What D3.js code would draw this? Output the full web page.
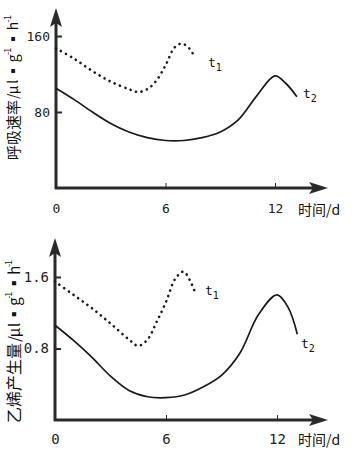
<!DOCTYPE html>
<html>
<head>
<meta charset="utf-8">
<script src="https://cdn.jsdelivr.net/npm/d3@7"></script>
<style>
  html, body { margin: 0; padding: 0; background: #fff; }
  svg { display: block; }
</style>
</head>
<body>
<div id="chart"></div>
<script>
// respiration rate panel (top)
const respT1Days = [0, 1, 2, 3, 4, 4.5, 5, 5.5, 6, 6.5, 6.9, 7.3, 7.6];
const respT1 = [147, 136, 123, 112, 104, 101, 104, 113, 129, 148, 152, 147, 138];
const respT2Days = [0, 1, 2, 3, 4, 5, 6, 7, 8, 9, 10, 11, 12, 12.6, 13.2];
const respT2 = [105, 93, 80, 68, 59, 53, 50, 50, 53, 59, 72, 97, 118, 110, 96];
const respTicks = [80, 160];

// ethylene production panel (bottom)
const ethT1Days = [0, 1, 2, 3, 4, 4.5, 5, 5.5, 6, 6.5, 6.95, 7.3, 7.6];
const ethT1 = [1.55, 1.40, 1.25, 1.08, 0.90, 0.83, 0.90, 1.10, 1.32, 1.58, 1.66, 1.56, 1.41];
const ethT2Days = [0, 1, 2, 3, 4, 5, 6, 7, 8, 9, 10, 11, 12, 12.6, 13.1];
const ethT2 = [1.06, 0.89, 0.70, 0.49, 0.33, 0.26, 0.25, 0.28, 0.37, 0.50, 0.75, 1.18, 1.40, 1.26, 0.96];
const ethTicks = [0.8, 1.6];

const dayTicks = [0, 6, 12];

const W = 353, H = 450;
const AXIS_COLOR = '#2a2a2a';
const LINE_COLOR = '#1a1a1a';
const MONO = '"DejaVu Sans Mono", monospace';
const CJK = '"Noto Sans CJK SC", sans-serif';

const svg = d3.select('#chart').append('svg').attr('width', W).attr('height', H);

function zip(days, vals) {
  return days.map((d, i) => ({ day: d, v: vals[i] }));
}

function panel(cfg) {
  const x = d3.scaleLinear().domain([0, 12]).range([cfg.x0, cfg.x12]);
  const y = d3.scaleLinear().domain([0, cfg.yMax]).range([cfg.axisY, cfg.yTop]);
  const g = svg.append('g');

  // axis lines with arrows
  g.append('line')
    .attr('x1', cfg.x0).attr('x2', cfg.x0)
    .attr('y1', cfg.axisY + 1).attr('y2', cfg.arrowTop + 10)
    .attr('stroke', AXIS_COLOR).attr('stroke-width', 3);
  g.append('path')
    .attr('d', `M${cfg.x0},${cfg.arrowTop} L${cfg.x0 - 6},${cfg.arrowTop + 19} L${cfg.x0},${cfg.arrowTop + 15} L${cfg.x0 + 6},${cfg.arrowTop + 19} Z`)
    .attr('fill', AXIS_COLOR);
  g.append('line')
    .attr('x1', cfg.x0 - 1).attr('x2', cfg.arrowRight - 10)
    .attr('y1', cfg.axisY).attr('y2', cfg.axisY)
    .attr('stroke', AXIS_COLOR).attr('stroke-width', 3);
  g.append('path')
    .attr('d', `M${cfg.arrowRight},${cfg.axisY} L${cfg.arrowRight - 19},${cfg.axisY - 6} L${cfg.arrowRight - 15},${cfg.axisY} L${cfg.arrowRight - 19},${cfg.axisY + 6} Z`)
    .attr('fill', AXIS_COLOR);

  // y ticks
  const yAxis = g.append('g')
    .attr('transform', `translate(${cfg.x0},0)`)
    .call(d3.axisLeft(y).tickValues(cfg.ticks).tickSize(-6).tickPadding(6).tickFormat(cfg.fmt));
  yAxis.select('.domain').remove();
  yAxis.selectAll('.tick line').attr('stroke', AXIS_COLOR).attr('stroke-width', 2);
  yAxis.selectAll('.tick text')
    .attr('font-family', MONO).attr('font-size', cfg.tickSize).attr('fill', '#222');

  // x ticks
  const xAxis = g.append('g')
    .attr('transform', `translate(0,${cfg.axisY})`)
    .call(d3.axisBottom(x).tickValues(dayTicks).tickSize(-5).tickPadding(cfg.xPad));
  xAxis.select('.domain').remove();
  xAxis.selectAll('.tick line').attr('stroke', AXIS_COLOR).attr('stroke-width', 1)
    .attr('display', d => d === 0 ? 'none' : null);
  xAxis.selectAll('.tick text')
    .attr('font-family', MONO).attr('font-size', cfg.tickSize).attr('fill', '#222');

  g.append('text')
    .attr('x', 298).attr('y', cfg.axisY + cfg.xPad + 11)
    .attr('font-family', CJK).attr('font-size', 14).attr('fill', '#111')
    .text('时间/d');

  // y title: Chinese part then unit part, rotated
  const tg = g.append('g')
    .attr('transform', `translate(${cfg.titleX},${cfg.titleBase}) rotate(-90)`);
  tg.append('text')
    .attr('x', 0).attr('dominant-baseline', 'central')
    .attr('font-family', CJK).attr('font-size', cfg.titleSize).attr('fill', '#111')
    .text(cfg.title);
  const unit = tg.append('text')
    .attr('x', cfg.titleSize * cfg.title.length + 1).attr('dominant-baseline', 'central')
    .attr('font-family', CJK).attr('font-size', cfg.titleSize - 1).attr('fill', '#111')
    .attr('textLength', cfg.unitLen).attr('lengthAdjust', 'spacing');
  unit.append('tspan').text('/μ l ▪ g');
  unit.append('tspan').attr('font-size', 9).attr('dy', -5).text('-1');
  unit.append('tspan').attr('dy', 5).text(' ▪ h');
  unit.append('tspan').attr('font-size', 9).attr('dy', -5).text('-1');

  const line = d3.line().x(d => x(d.day)).y(d => y(d.v)).curve(d3.curveCatmullRom.alpha(0.5));

  g.append('path')
    .attr('d', line(zip(cfg.t1Days, cfg.t1)))
    .attr('fill', 'none').attr('stroke', LINE_COLOR)
    .attr('stroke-width', 2.6).attr('stroke-linecap', 'round')
    .attr('stroke-dasharray', '0.1 5.6');
  g.append('path')
    .attr('d', line(zip(cfg.t2Days, cfg.t2)))
    .attr('fill', 'none').attr('stroke', LINE_COLOR).attr('stroke-width', 1.7);

  // series labels
  [[cfg.t1Label, '1'], [cfg.t2Label, '2']].forEach(([pos, sub]) => {
    const t = g.append('text')
      .attr('x', pos[0]).attr('y', pos[1])
      .attr('font-family', MONO).attr('font-size', 13).attr('fill', '#111');
    t.append('tspan').text('t');
    t.append('tspan').attr('font-size', 10).attr('dy', 4).text(sub);
  });
}

panel({
  x0: 56, x12: 275, axisY: 188, yTop: 36, yMax: 160,
  arrowTop: 8, arrowRight: 328, xPad: 16, tickSize: 13,
  ticks: respTicks, fmt: d3.format('d'),
  t1Days: respT1Days, t1: respT1, t2Days: respT2Days, t2: respT2,
  t1Label: [208, 67], t2Label: [303, 98],
  title: '呼吸速率', titleX: 12, titleBase: 160, titleSize: 15, unitLen: 84
});

panel({
  x0: 55, x12: 277, axisY: 420, yTop: 277, yMax: 1.6,
  arrowTop: 238, arrowRight: 328, xPad: 14, tickSize: 14,
  ticks: ethTicks, fmt: d3.format('.1f'),
  t1Days: ethT1Days, t1: ethT1, t2Days: ethT2Days, t2: ethT2,
  t1Label: [205, 295], t2Label: [301, 348],
  title: '乙烯产生量', titleX: 13, titleBase: 423, titleSize: 16, unitLen: 82
});
</script>
</body>
</html>
